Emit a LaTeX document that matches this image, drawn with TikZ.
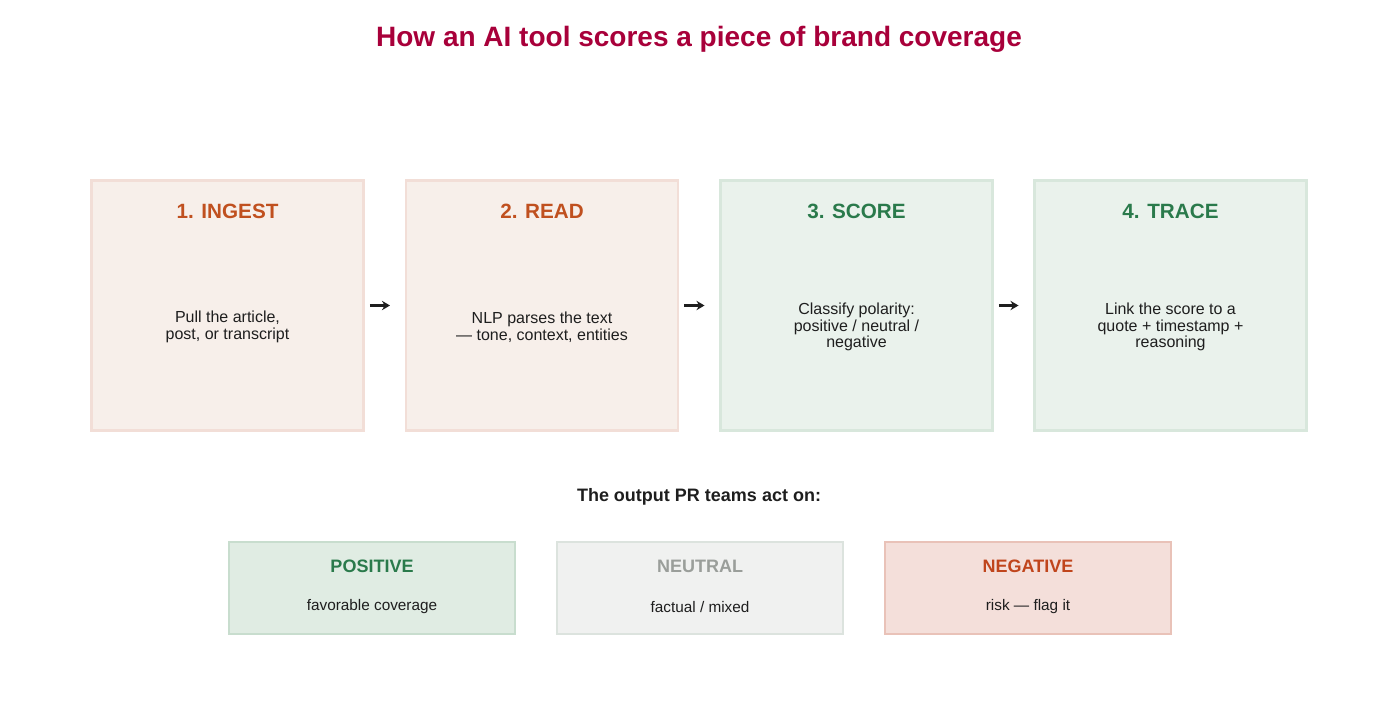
\documentclass[tikz,border=0pt]{standalone}
\usepackage{fontspec}
\setmainfont{Liberation Sans}
\begin{document}
\begin{tikzpicture}[x=0.75pt,y=-0.75pt,
  step/.style={draw=#1, line width=2pt, minimum width=272*0.75pt, minimum height=250*0.75pt, inner sep=0pt},
  out/.style={draw=#1, line width=2pt, minimum width=286*0.75pt, minimum height=92*0.75pt, inner sep=0pt},
  head/.style={font=\fontsize{15.5}{18}\selectfont\bfseries, text=#1},
  body/.style={font=\fontsize{12}{12.5}\selectfont, text=txt, align=center},
  arr/.style={->, >={Stealth[length=6pt,width=7pt]}, line width=1.6pt, draw=txt}]
\usetikzlibrary{arrows.meta}
\definecolor{txt}{HTML}{1E1E1E}
\definecolor{ofill}{HTML}{F7EFEA}\definecolor{oline}{HTML}{F2DED7}\definecolor{ohead}{HTML}{C0501F}
\definecolor{gfill}{HTML}{EAF2EC}\definecolor{gline}{HTML}{D8E7DC}\definecolor{ghead}{HTML}{2A7A4B}
\definecolor{pfill}{HTML}{E0ECE3}\definecolor{pline}{HTML}{C8DDCE}
\definecolor{nfill}{HTML}{F0F1F0}\definecolor{nline}{HTML}{DCE3DE}\definecolor{nhead}{HTML}{9A9E9A}
\definecolor{xfill}{HTML}{F4DFDA}\definecolor{xline}{HTML}{E9C2B8}\definecolor{xhead}{HTML}{C0451C}
\definecolor{ttl}{HTML}{A8003A}
\useasboundingbox (0,0) rectangle (1398,710);
\node[font=\fontsize{21}{24}\selectfont\bfseries, text=ttl] (title) at (699,39) {How an AI tool scores a piece of brand coverage};

\node[step=oline, fill=ofill] (s1) at (227.5,305.5) {};
\node[step=oline, fill=ofill] (s2) at (542,305.5) {};
\node[step=gline, fill=gfill] (s3) at (856.5,305.5) {};
\node[step=gline, fill=gfill] (s4) at (1170.5,305.5) {};

\node[head=ohead] (h1) at (227.5,211) {1. INGEST};
\node[head=ohead] (h2) at (542,211) {2. READ};
\node[head=ghead] (h3) at (856.5,211) {3. SCORE};
\node[head=ghead] (h4) at (1170.5,211) {4. TRACE};

\node[body] (b1) at (227.5,327) {Pull the article,\\post, or transcript};
\node[body] (b2) at (542,327) {NLP parses the text\\— tone, context, entities};
\node[body] (b3) at (856.5,327) {Classify polarity:\\positive / neutral /\\negative};
\node[body] (b4) at (1170.5,327) {Link the score to a\\quote + timestamp +\\reasoning};

\draw[arr] (s1.east)++(5,0) -- ([xshift=-11]s2.west);
\draw[arr] (s2.east)++(5,0) -- ([xshift=-11]s3.west);
\draw[arr] (s3.east)++(5,0) -- ([xshift=-11]s4.west);

\node[font=\fontsize{13.5}{16}\selectfont\bfseries, text=txt] (sub) at (699,497) {The output PR teams act on:};

\node[out=pline, fill=pfill] (o1) at (372,588) {};
\node[out=nline, fill=nfill] (o2) at (700,588) {};
\node[out=xline, fill=xfill] (o3) at (1028,588) {};
\node[head=ghead, font=\fontsize{13.5}{16}\selectfont\bfseries] (p1) at (372,566) {POSITIVE};
\node[head=nhead, font=\fontsize{13.5}{16}\selectfont\bfseries] (p2) at (700,566) {NEUTRAL};
\node[head=xhead, font=\fontsize{13.5}{16}\selectfont\bfseries] (p3) at (1028,566) {NEGATIVE};
\node[body, font=\fontsize{11.5}{13}\selectfont] (q1) at (372,607) {favorable coverage};
\node[body, font=\fontsize{11.5}{13}\selectfont] (q2) at (700,607) {factual / mixed};
\node[body, font=\fontsize{11.5}{13}\selectfont] (q3) at (1028,607) {risk — flag it};
\end{tikzpicture}
\end{document}
